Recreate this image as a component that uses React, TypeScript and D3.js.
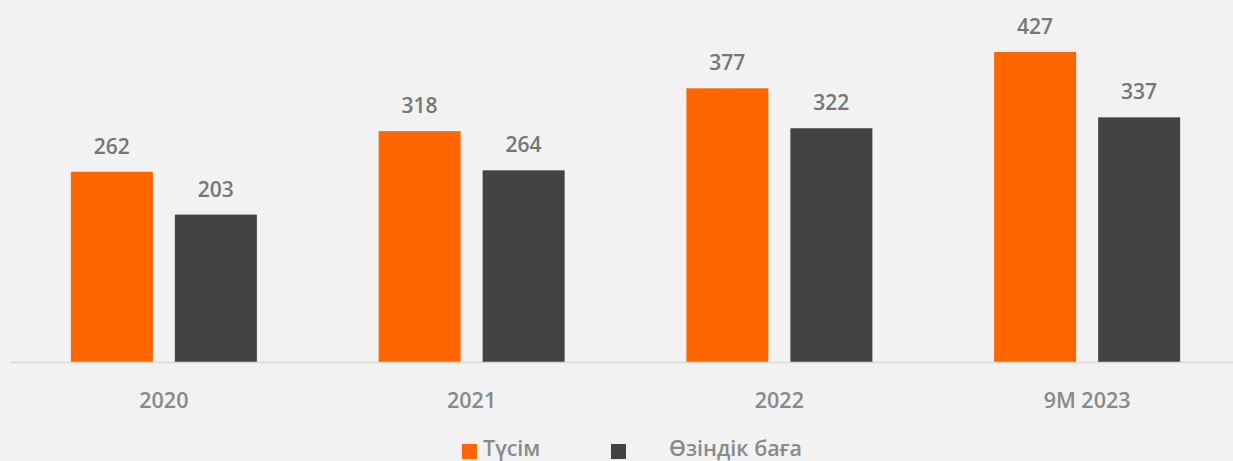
import React from "react";
import * as d3 from "d3";

const categories = ["2020", "2021", "2022", "9M 2023"];
const seriesNames = ["Түсім", "Өзіндік баға"];
const revenue = [262, 318, 377, 427];
const cost = [203, 264, 322, 337];
const seriesColors = ["#FF6600", "#434343"];

const W = 1233;
const H = 461;

export default function App() {
  React.useEffect(() => {
    document.body.style.margin = "0";
    document.body.style.background = "#f2f2f2";
  }, []);

  const x0 = d3
    .scaleBand<string>()
    .domain(categories)
    .range([10, 1241])
    .paddingInner(0.3956)
    .paddingOuter(0.1978);
  const x1 = d3
    .scaleBand<string>()
    .domain(seriesNames)
    .range([0, x0.bandwidth()])
    .paddingInner(0.2115)
    .paddingOuter(0);
  const y = d3.scaleLinear().domain([0, 500]).range([362, -1]);

  const values = [revenue, cost];
  const font = "'Segoe UI', 'Open Sans', sans-serif";

  return (
    <svg width={W} height={H} style={{ display: "block", background: "#f2f2f2" }}>
      <rect x={0} y={0} width={W} height={H} fill="#f2f2f2" />
      {categories.map((c, i) => (
        <g key={c} transform={`translate(${x0(c)},0)`}>
          {seriesNames.map((s, j) => {
            const v = values[j][i];
            const bx = x1(s)!;
            return (
              <g key={s}>
                <rect
                  x={bx}
                  y={y(v)}
                  width={x1.bandwidth()}
                  height={y(0) - y(v)}
                  fill={seriesColors[j]}
                />
                <text
                  x={bx + x1.bandwidth() / 2}
                  y={y(v) - 18}
                  textAnchor="middle"
                  fontFamily={font}
                  fontWeight={600}
                  fontSize={21}
                  fill="#767676"
                >
                  {v}
                </text>
              </g>
            );
          })}
          <text
            x={x0.bandwidth() / 2}
            y={408}
            textAnchor="middle"
            fontFamily={font}
            fontWeight={600}
            fontSize={21.5}
            fill="#898989"
          >
            {c}
          </text>
        </g>
      ))}
      <line x1={10} x2={W} y1={362.5} y2={362.5} stroke="#d9d9d9" strokeWidth={1.5} />
      <g>
        <rect x={462} y={444} width={15} height={15} fill={seriesColors[0]} />
        <text x={483} y={456} fontFamily={font} fontWeight={600} fontSize={21.5} fill="#8a8a8a">
          {seriesNames[0]}
        </text>
        <rect x={611} y={444} width={15} height={15} fill={seriesColors[1]} />
        <text x={669} y={456} fontFamily={font} fontWeight={600} fontSize={21.5} fill="#8a8a8a">
          {seriesNames[1]}
        </text>
      </g>
    </svg>
  );
}
